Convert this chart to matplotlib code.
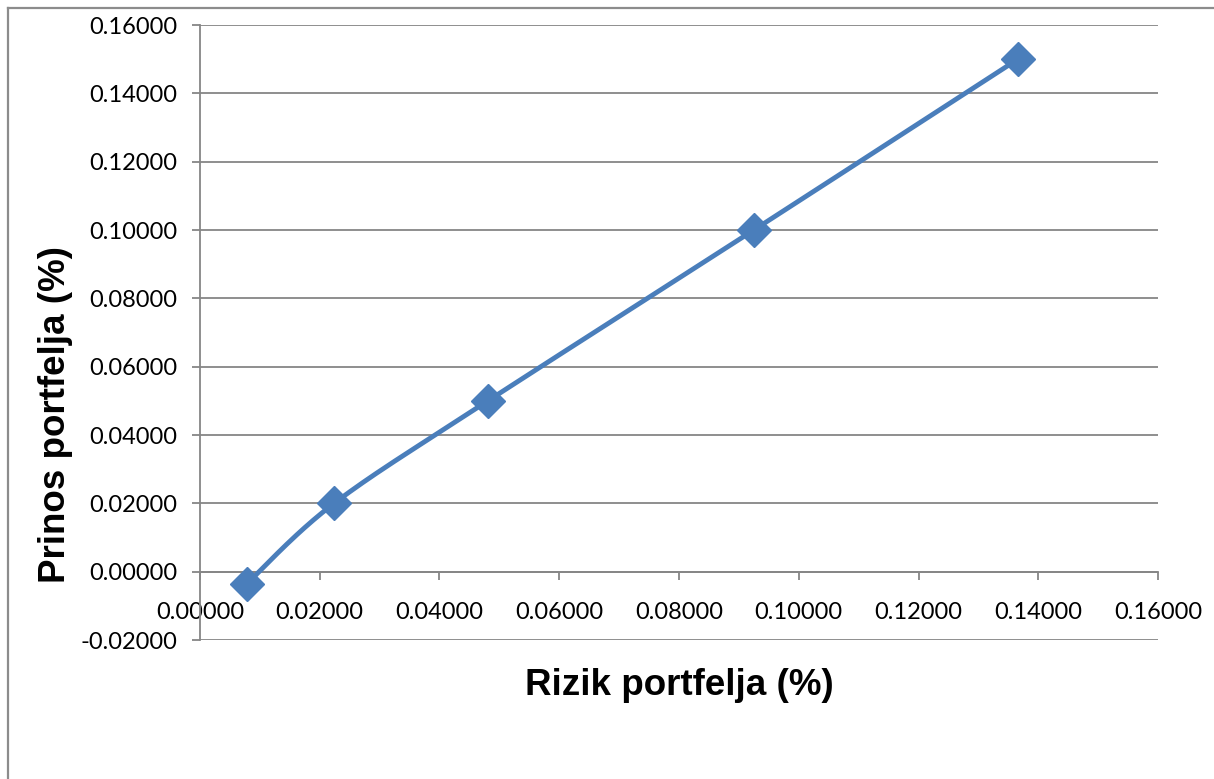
import matplotlib
matplotlib.use("Agg")
import matplotlib.pyplot as plt
import numpy as np
from matplotlib.lines import Line2D

# data
rizik = [0.00785, 0.0224, 0.0481, 0.0925, 0.1366]
prinos = [-0.0035, 0.0200, 0.0500, 0.1000, 0.1500]
xticks = [0.0, 0.02, 0.04, 0.06, 0.08, 0.10, 0.12, 0.14, 0.16]
yticks = [-0.02, 0.0, 0.02, 0.04, 0.06, 0.08, 0.10, 0.12, 0.14, 0.16]

blue = "#4A7EBB"
grey = "#868686"


def smooth(xs, ys, n=40):
    # excel-like smoothed line (catmull-rom through the points)
    px = [xs[0]] + list(xs) + [xs[-1]]
    py = [ys[0]] + list(ys) + [ys[-1]]
    ox, oy = [], []
    t = np.linspace(0, 1, n)
    for i in range(1, len(px) - 2):
        x0, x1, x2, x3 = px[i - 1], px[i], px[i + 1], px[i + 2]
        y0, y1, y2, y3 = py[i - 1], py[i], py[i + 1], py[i + 2]
        c1x, c1y = x1 + (x2 - x0) / 6, y1 + (y2 - y0) / 6
        c2x, c2y = x2 - (x3 - x1) / 6, y2 - (y3 - y1) / 6
        bx = (1-t)**3*x1 + 3*(1-t)**2*t*c1x + 3*(1-t)*t**2*c2x + t**3*x2
        by = (1-t)**3*y1 + 3*(1-t)**2*t*c1y + 3*(1-t)*t**2*c2y + t**3*y2
        ox += list(bx)
        oy += list(by)
    return ox, oy


fig = plt.figure(figsize=(12.14, 7.79), dpi=100)
ax = fig.add_axes([0.1647, 0.1784, 0.7892, 0.7895])

sx, sy = smooth(rizik, prinos)
ax.plot(sx, sy, color=blue, lw=3.5, solid_capstyle="round", zorder=3)
ax.plot(rizik, prinos, ls="none", marker="D", ms=17, color=blue, zorder=4)

ax.set_xlim(0, 0.16)
ax.set_ylim(-0.02, 0.16)
ax.set_xticks(xticks)
ax.set_yticks(yticks)
ax.set_xticklabels(["%.5f" % v for v in xticks])
ax.set_yticklabels(["%.5f" % v for v in yticks])

ax.yaxis.grid(True, color=grey, lw=1.3)
ax.set_axisbelow(True)
ax.spines["top"].set_visible(False)
ax.spines["right"].set_visible(False)
ax.spines["bottom"].set_position(("data", 0))
ax.spines["bottom"].set_color(grey)
ax.spines["left"].set_color(grey)
ax.spines["bottom"].set_linewidth(1.3)
ax.spines["left"].set_linewidth(1.3)
ax.tick_params(axis="x", direction="out", length=6, width=1.3, color=grey,
               pad=16, labelsize=17)
ax.tick_params(axis="y", direction="out", length=6, width=1.3, color=grey,
               pad=10, labelsize=17)
for lab in ax.get_xticklabels() + ax.get_yticklabels():
    lab.set_family(["Lato", "DejaVu Sans"])

ax.set_xlabel("Rizik portfelja (%)", fontsize=26.5, fontweight="bold",
              family="Liberation Sans")
ax.set_ylabel("Prinos portfelja (%)", fontsize=26.5, fontweight="bold",
              family="Liberation Sans")
ax.xaxis.set_label_coords(0.5, -0.046)
ax.yaxis.set_label_coords(-0.133, 0.367)

# chart area border (left and top edges)
fig.add_artist(Line2D([8/1214, 8/1214], [0, 1 - 8/779], transform=fig.transFigure,
                      color="#8c8c8c", lw=1.6))
fig.add_artist(Line2D([8/1214, 1], [1 - 8/779, 1 - 8/779], transform=fig.transFigure,
                      color="#8c8c8c", lw=1.6))

fig.savefig("out.png", dpi=100)
